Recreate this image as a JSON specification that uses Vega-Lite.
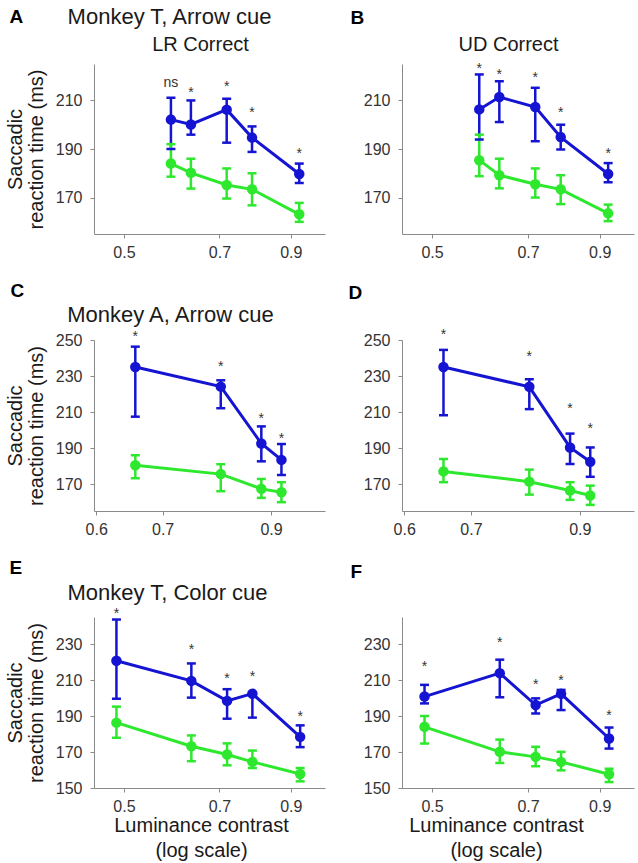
{
  "$schema": "https://vega.github.io/schema/vega-lite/v6.json",
  "padding": {"left": 5, "top": 5, "right": 3, "bottom": 5},
  "background": "white",
  "datasets": {
    "pts": [
      {"panel": "A", "cond": "blue", "c": 0.59, "rt": 202.1, "lo": 190, "hi": 211.1},
      {"panel": "A", "cond": "blue", "c": 0.633, "rt": 200.1, "lo": 195.9, "hi": 210},
      {"panel": "A", "cond": "blue", "c": 0.718, "rt": 206.2, "lo": 192.6, "hi": 210.7},
      {"panel": "A", "cond": "blue", "c": 0.785, "rt": 194.7, "lo": 188.8, "hi": 199.3},
      {"panel": "A", "cond": "blue", "c": 0.927, "rt": 179.7, "lo": 176, "hi": 184},
      {"panel": "A", "cond": "green", "c": 0.59, "rt": 184, "lo": 178.6, "hi": 192},
      {"panel": "A", "cond": "green", "c": 0.633, "rt": 180.2, "lo": 173.7, "hi": 186},
      {"panel": "A", "cond": "green", "c": 0.718, "rt": 175.2, "lo": 169.6, "hi": 182},
      {"panel": "A", "cond": "green", "c": 0.785, "rt": 173.4, "lo": 166.8, "hi": 180},
      {"panel": "A", "cond": "green", "c": 0.927, "rt": 163.1, "lo": 160, "hi": 167.8},
      {"panel": "B", "cond": "blue", "c": 0.59, "rt": 206.3, "lo": 193.9, "hi": 220.7},
      {"panel": "B", "cond": "blue", "c": 0.633, "rt": 211.4, "lo": 201.1, "hi": 217.9},
      {"panel": "B", "cond": "blue", "c": 0.718, "rt": 207.3, "lo": 193.2, "hi": 215.2},
      {"panel": "B", "cond": "blue", "c": 0.785, "rt": 194.9, "lo": 189.8, "hi": 200},
      {"panel": "B", "cond": "blue", "c": 0.927, "rt": 179.7, "lo": 176.3, "hi": 184.2},
      {"panel": "B", "cond": "green", "c": 0.59, "rt": 185.4, "lo": 178.8, "hi": 195.9},
      {"panel": "B", "cond": "green", "c": 0.633, "rt": 179.2, "lo": 173.8, "hi": 186},
      {"panel": "B", "cond": "green", "c": 0.718, "rt": 175.5, "lo": 170, "hi": 182},
      {"panel": "B", "cond": "green", "c": 0.785, "rt": 173.4, "lo": 167.3, "hi": 179.2},
      {"panel": "B", "cond": "green", "c": 0.927, "rt": 163.5, "lo": 160.3, "hi": 167.1},
      {"panel": "C", "cond": "blue", "c": 0.657, "rt": 235, "lo": 207.4, "hi": 246.3},
      {"panel": "C", "cond": "blue", "c": 0.801, "rt": 224.1, "lo": 212.1, "hi": 227.6},
      {"panel": "C", "cond": "blue", "c": 0.88, "rt": 192.5, "lo": 182.6, "hi": 202},
      {"panel": "C", "cond": "blue", "c": 0.922, "rt": 183.4, "lo": 175, "hi": 192.2},
      {"panel": "C", "cond": "green", "c": 0.657, "rt": 180.4, "lo": 173.2, "hi": 186},
      {"panel": "C", "cond": "green", "c": 0.801, "rt": 175.5, "lo": 166, "hi": 181},
      {"panel": "C", "cond": "green", "c": 0.88, "rt": 167.3, "lo": 162.3, "hi": 172.8},
      {"panel": "C", "cond": "green", "c": 0.922, "rt": 165.4, "lo": 159.9, "hi": 171},
      {"panel": "D", "cond": "blue", "c": 0.657, "rt": 235, "lo": 208.2, "hi": 244.5},
      {"panel": "D", "cond": "blue", "c": 0.801, "rt": 224, "lo": 211.6, "hi": 228.2},
      {"panel": "D", "cond": "blue", "c": 0.88, "rt": 190.3, "lo": 181.1, "hi": 198},
      {"panel": "D", "cond": "blue", "c": 0.922, "rt": 182.4, "lo": 174, "hi": 190.3},
      {"panel": "D", "cond": "green", "c": 0.657, "rt": 177, "lo": 171, "hi": 183.9},
      {"panel": "D", "cond": "green", "c": 0.801, "rt": 171.3, "lo": 164.1, "hi": 178},
      {"panel": "D", "cond": "green", "c": 0.88, "rt": 166.4, "lo": 161.2, "hi": 171},
      {"panel": "D", "cond": "green", "c": 0.922, "rt": 163.6, "lo": 158.4, "hi": 169.1},
      {"panel": "E", "cond": "blue", "c": 0.487, "rt": 220.7, "lo": 199.6, "hi": 243.6},
      {"panel": "E", "cond": "blue", "c": 0.634, "rt": 209.5, "lo": 200.2, "hi": 219.2},
      {"panel": "E", "cond": "blue", "c": 0.719, "rt": 198.4, "lo": 188.5, "hi": 204.9},
      {"panel": "E", "cond": "blue", "c": 0.786, "rt": 202.4, "lo": 189.1, "hi": 203},
      {"panel": "E", "cond": "blue", "c": 0.93, "rt": 178.4, "lo": 172.7, "hi": 184.8},
      {"panel": "E", "cond": "green", "c": 0.487, "rt": 186.3, "lo": 177.9, "hi": 195.2},
      {"panel": "E", "cond": "green", "c": 0.634, "rt": 173.2, "lo": 164.9, "hi": 179.2},
      {"panel": "E", "cond": "green", "c": 0.719, "rt": 168.6, "lo": 162.6, "hi": 174.8},
      {"panel": "E", "cond": "green", "c": 0.786, "rt": 164.5, "lo": 161.1, "hi": 170.8},
      {"panel": "E", "cond": "green", "c": 0.93, "rt": 157.8, "lo": 153.7, "hi": 161.1},
      {"panel": "F", "cond": "blue", "c": 0.487, "rt": 200.8, "lo": 197, "hi": 207.3},
      {"panel": "F", "cond": "blue", "c": 0.634, "rt": 213.8, "lo": 200.4, "hi": 221.3},
      {"panel": "F", "cond": "blue", "c": 0.719, "rt": 196.1, "lo": 191.4, "hi": 199.8},
      {"panel": "F", "cond": "blue", "c": 0.786, "rt": 202.3, "lo": 193.3, "hi": 204.5},
      {"panel": "F", "cond": "blue", "c": 0.93, "rt": 177.5, "lo": 171.9, "hi": 183.6},
      {"panel": "F", "cond": "green", "c": 0.487, "rt": 184, "lo": 174.7, "hi": 190},
      {"panel": "F", "cond": "green", "c": 0.634, "rt": 170.1, "lo": 163.9, "hi": 176.9},
      {"panel": "F", "cond": "green", "c": 0.719, "rt": 167.3, "lo": 162.1, "hi": 172.9},
      {"panel": "F", "cond": "green", "c": 0.786, "rt": 164.5, "lo": 159.8, "hi": 170.1},
      {"panel": "F", "cond": "green", "c": 0.93, "rt": 157.6, "lo": 153.3, "hi": 160.7}
    ],
    "sig": [
      {"panel": "A", "c": 0.59, "sy": 215.4, "sig": "ns"},
      {"panel": "A", "c": 0.633, "sy": 211.5, "sig": "*"},
      {"panel": "A", "c": 0.718, "sy": 213.8, "sig": "*"},
      {"panel": "A", "c": 0.785, "sy": 203.3, "sig": "*"},
      {"panel": "A", "c": 0.927, "sy": 186.5, "sig": "*"},
      {"panel": "B", "c": 0.59, "sy": 221.1, "sig": "*"},
      {"panel": "B", "c": 0.633, "sy": 219.0, "sig": "*"},
      {"panel": "B", "c": 0.718, "sy": 217.7, "sig": "*"},
      {"panel": "B", "c": 0.785, "sy": 203.3, "sig": "*"},
      {"panel": "B", "c": 0.927, "sy": 186.2, "sig": "*"},
      {"panel": "C", "c": 0.657, "sy": 249.6, "sig": "*"},
      {"panel": "C", "c": 0.801, "sy": 233.0, "sig": "*"},
      {"panel": "C", "c": 0.88, "sy": 204.1, "sig": "*"},
      {"panel": "C", "c": 0.922, "sy": 193.0, "sig": "*"},
      {"panel": "D", "c": 0.657, "sy": 250.6, "sig": "*"},
      {"panel": "D", "c": 0.801, "sy": 238.6, "sig": "*"},
      {"panel": "D", "c": 0.88, "sy": 209.6, "sig": "*"},
      {"panel": "D", "c": 0.922, "sy": 198.4, "sig": "*"},
      {"panel": "E", "c": 0.487, "sy": 244.5, "sig": "*"},
      {"panel": "E", "c": 0.634, "sy": 224.2, "sig": "*"},
      {"panel": "E", "c": 0.719, "sy": 208.4, "sig": "*"},
      {"panel": "E", "c": 0.786, "sy": 209.7, "sig": "*"},
      {"panel": "E", "c": 0.93, "sy": 187.3, "sig": "*"},
      {"panel": "F", "c": 0.487, "sy": 215.0, "sig": "*"},
      {"panel": "F", "c": 0.634, "sy": 228.1, "sig": "*"},
      {"panel": "F", "c": 0.719, "sy": 204.8, "sig": "*"},
      {"panel": "F", "c": 0.786, "sy": 207.0, "sig": "*"},
      {"panel": "F", "c": 0.93, "sy": 187.9, "sig": "*"}
    ]
  },
  "columns": 2,
  "bounds": "flush",
  "align": "each",
  "spacing": {"row": 106, "column": 77},
  "concat": [
    {
      "width": 231, "height": 170,
      "data": {"name": "pts"},
      "transform": [{"filter": "datum.panel == 'A'"}],
      "resolve": {"axis": {"x": "independent", "y": "independent"}},
      "layer": [
        {"mark": {"type": "line", "strokeWidth": 3},
         "encoding": {
           "x": {"field": "c", "type": "quantitative", "scale": {"type": "log", "domain": [0.45, 1.015], "nice": false}, "axis": {"values": [0.5, 0.7, 0.9], "format": ".1f", "title": null}},
           "y": {"field": "rt", "type": "quantitative", "scale": {"domain": [155, 225], "nice": false, "zero": false}, "axis": {"values": [170, 190, 210], "title": ["Saccadic", "reaction time (ms)"]}},
           "color": {"field": "cond", "type": "nominal", "scale": {"domain": ["blue", "green"], "range": ["#1414d2", "#2ee82e"]}, "legend": null}}},
        {"mark": {"type": "rule", "strokeWidth": 2.5},
         "encoding": {
           "x": {"field": "c", "type": "quantitative", "scale": {"type": "log", "domain": [0.45, 1.015], "nice": false}, "axis": null},
           "y": {"field": "lo", "type": "quantitative", "scale": {"domain": [155, 225], "nice": false, "zero": false}, "axis": null},
           "y2": {"field": "hi"},
           "color": {"field": "cond", "type": "nominal", "scale": {"domain": ["blue", "green"], "range": ["#1414d2", "#2ee82e"]}, "legend": null}}},
        {"mark": {"type": "tick", "orient": "horizontal", "size": 9, "thickness": 2.5, "opacity": 1},
         "encoding": {
           "x": {"field": "c", "type": "quantitative", "scale": {"type": "log", "domain": [0.45, 1.015], "nice": false},
                 "axis": {"orient": "top", "domain": false, "ticks": false, "labels": false, "title": "A", "titleX": -85, "titleY": -48, "titleAlign": "left", "titleBaseline": "middle", "titleFontWeight": "bold", "titleFontSize": 19, "titleColor": "#000000"}},
           "y": {"field": "lo", "type": "quantitative", "scale": {"domain": [155, 225], "nice": false, "zero": false}, "axis": null},
           "color": {"field": "cond", "type": "nominal", "scale": {"domain": ["blue", "green"], "range": ["#1414d2", "#2ee82e"]}, "legend": null}}},
        {"mark": {"type": "tick", "orient": "horizontal", "size": 9, "thickness": 2.5, "opacity": 1},
         "encoding": {
           "x": {"field": "c", "type": "quantitative", "scale": {"type": "log", "domain": [0.45, 1.015], "nice": false},
                 "axis": {"orient": "top", "domain": false, "ticks": false, "labels": false, "title": "Monkey T, Arrow cue", "titleX": 75, "titleY": -48, "titleAlign": "center", "titleBaseline": "middle", "titleFontSize": 22}},
           "y": {"field": "hi", "type": "quantitative", "scale": {"domain": [155, 225], "nice": false, "zero": false}, "axis": null},
           "color": {"field": "cond", "type": "nominal", "scale": {"domain": ["blue", "green"], "range": ["#1414d2", "#2ee82e"]}, "legend": null}}},
        {"mark": {"type": "circle", "size": 110, "opacity": 1},
         "encoding": {
           "x": {"field": "c", "type": "quantitative", "scale": {"type": "log", "domain": [0.45, 1.015], "nice": false}, "axis": null},
           "y": {"field": "rt", "type": "quantitative", "scale": {"domain": [155, 225], "nice": false, "zero": false}, "axis": null},
           "color": {"field": "cond", "type": "nominal", "scale": {"domain": ["blue", "green"], "range": ["#1414d2", "#2ee82e"]}, "legend": null}}},
        {"data": {"name": "sig"},
         "transform": [{"filter": "datum.panel == 'A'"}],
         "mark": {"type": "text", "fontSize": 14, "color": "#333333", "baseline": "alphabetic"},
         "encoding": {
           "x": {"field": "c", "type": "quantitative", "scale": {"type": "log", "domain": [0.45, 1.015], "nice": false},
                 "axis": {"orient": "top", "domain": false, "ticks": false, "labels": false, "title": "LR Correct", "titleX": 106, "titleY": -20, "titleAlign": "center", "titleBaseline": "middle", "titleFontSize": 20}},
           "y": {"field": "sy", "type": "quantitative", "scale": {"domain": [155, 225], "nice": false, "zero": false}, "axis": null},
           "text": {"field": "sig", "type": "nominal"}}}
      ]
    },
    {
      "width": 232, "height": 170,
      "data": {"name": "pts"},
      "transform": [{"filter": "datum.panel == 'B'"}],
      "resolve": {"axis": {"x": "independent", "y": "independent"}},
      "layer": [
        {"mark": {"type": "line", "strokeWidth": 3},
         "encoding": {
           "x": {"field": "c", "type": "quantitative", "scale": {"type": "log", "domain": [0.45, 1.015], "nice": false}, "axis": {"values": [0.5, 0.7, 0.9], "format": ".1f", "title": null}},
           "y": {"field": "rt", "type": "quantitative", "scale": {"domain": [155, 225], "nice": false, "zero": false}, "axis": {"values": [170, 190, 210], "title": null}},
           "color": {"field": "cond", "type": "nominal", "scale": {"domain": ["blue", "green"], "range": ["#1414d2", "#2ee82e"]}, "legend": null}}},
        {"mark": {"type": "rule", "strokeWidth": 2.5},
         "encoding": {
           "x": {"field": "c", "type": "quantitative", "scale": {"type": "log", "domain": [0.45, 1.015], "nice": false}, "axis": null},
           "y": {"field": "lo", "type": "quantitative", "scale": {"domain": [155, 225], "nice": false, "zero": false}, "axis": null},
           "y2": {"field": "hi"},
           "color": {"field": "cond", "type": "nominal", "scale": {"domain": ["blue", "green"], "range": ["#1414d2", "#2ee82e"]}, "legend": null}}},
        {"mark": {"type": "tick", "orient": "horizontal", "size": 9, "thickness": 2.5, "opacity": 1},
         "encoding": {
           "x": {"field": "c", "type": "quantitative", "scale": {"type": "log", "domain": [0.45, 1.015], "nice": false},
                 "axis": {"orient": "top", "domain": false, "ticks": false, "labels": false, "title": "B", "titleX": -52, "titleY": -47, "titleAlign": "left", "titleBaseline": "middle", "titleFontWeight": "bold", "titleFontSize": 19, "titleColor": "#000000"}},
           "y": {"field": "lo", "type": "quantitative", "scale": {"domain": [155, 225], "nice": false, "zero": false}, "axis": null},
           "color": {"field": "cond", "type": "nominal", "scale": {"domain": ["blue", "green"], "range": ["#1414d2", "#2ee82e"]}, "legend": null}}},
        {"mark": {"type": "tick", "orient": "horizontal", "size": 9, "thickness": 2.5, "opacity": 1},
         "encoding": {
           "x": {"field": "c", "type": "quantitative", "scale": {"type": "log", "domain": [0.45, 1.015], "nice": false},
                 "axis": {"orient": "top", "domain": false, "ticks": false, "labels": false, "title": "UD Correct", "titleX": 106, "titleY": -20, "titleAlign": "center", "titleBaseline": "middle", "titleFontSize": 20}},
           "y": {"field": "hi", "type": "quantitative", "scale": {"domain": [155, 225], "nice": false, "zero": false}, "axis": null},
           "color": {"field": "cond", "type": "nominal", "scale": {"domain": ["blue", "green"], "range": ["#1414d2", "#2ee82e"]}, "legend": null}}},
        {"mark": {"type": "circle", "size": 110, "opacity": 1},
         "encoding": {
           "x": {"field": "c", "type": "quantitative", "scale": {"type": "log", "domain": [0.45, 1.015], "nice": false}, "axis": null},
           "y": {"field": "rt", "type": "quantitative", "scale": {"domain": [155, 225], "nice": false, "zero": false}, "axis": null},
           "color": {"field": "cond", "type": "nominal", "scale": {"domain": ["blue", "green"], "range": ["#1414d2", "#2ee82e"]}, "legend": null}}},
        {"data": {"name": "sig"},
         "transform": [{"filter": "datum.panel == 'B'"}],
         "mark": {"type": "text", "fontSize": 14, "color": "#333333", "baseline": "alphabetic"},
         "encoding": {
           "x": {"field": "c", "type": "quantitative", "scale": {"type": "log", "domain": [0.45, 1.015], "nice": false}, "axis": null},
           "y": {"field": "sy", "type": "quantitative", "scale": {"domain": [155, 225], "nice": false, "zero": false}, "axis": null},
           "text": {"field": "sig", "type": "nominal"}}}
      ]
    },
    {
      "width": 231, "height": 171,
      "data": {"name": "pts"},
      "transform": [{"filter": "datum.panel == 'C'"}],
      "resolve": {"axis": {"x": "independent", "y": "independent"}},
      "layer": [
        {"mark": {"type": "line", "strokeWidth": 3},
         "encoding": {
           "x": {"field": "c", "type": "quantitative", "scale": {"type": "log", "domain": [0.597, 1.02], "nice": false}, "axis": {"values": [0.6, 0.7, 0.9], "format": ".1f", "title": null}},
           "y": {"field": "rt", "type": "quantitative", "scale": {"domain": [155, 250], "nice": false, "zero": false}, "axis": {"values": [170, 190, 210, 230, 250], "title": ["Saccadic", "reaction time (ms)"]}},
           "color": {"field": "cond", "type": "nominal", "scale": {"domain": ["blue", "green"], "range": ["#1414d2", "#2ee82e"]}, "legend": null}}},
        {"mark": {"type": "rule", "strokeWidth": 2.5},
         "encoding": {
           "x": {"field": "c", "type": "quantitative", "scale": {"type": "log", "domain": [0.597, 1.02], "nice": false}, "axis": null},
           "y": {"field": "lo", "type": "quantitative", "scale": {"domain": [155, 250], "nice": false, "zero": false}, "axis": null},
           "y2": {"field": "hi"},
           "color": {"field": "cond", "type": "nominal", "scale": {"domain": ["blue", "green"], "range": ["#1414d2", "#2ee82e"]}, "legend": null}}},
        {"mark": {"type": "tick", "orient": "horizontal", "size": 9, "thickness": 2.5, "opacity": 1},
         "encoding": {
           "x": {"field": "c", "type": "quantitative", "scale": {"type": "log", "domain": [0.597, 1.02], "nice": false},
                 "axis": {"orient": "top", "domain": false, "ticks": false, "labels": false, "title": "C", "titleX": -84, "titleY": -50, "titleAlign": "left", "titleBaseline": "middle", "titleFontWeight": "bold", "titleFontSize": 19, "titleColor": "#000000"}},
           "y": {"field": "lo", "type": "quantitative", "scale": {"domain": [155, 250], "nice": false, "zero": false}, "axis": null},
           "color": {"field": "cond", "type": "nominal", "scale": {"domain": ["blue", "green"], "range": ["#1414d2", "#2ee82e"]}, "legend": null}}},
        {"mark": {"type": "tick", "orient": "horizontal", "size": 9, "thickness": 2.5, "opacity": 1},
         "encoding": {
           "x": {"field": "c", "type": "quantitative", "scale": {"type": "log", "domain": [0.597, 1.02], "nice": false},
                 "axis": {"orient": "top", "domain": false, "ticks": false, "labels": false, "title": "Monkey A, Arrow cue", "titleX": 76, "titleY": -26, "titleAlign": "center", "titleBaseline": "middle", "titleFontSize": 22}},
           "y": {"field": "hi", "type": "quantitative", "scale": {"domain": [155, 250], "nice": false, "zero": false}, "axis": null},
           "color": {"field": "cond", "type": "nominal", "scale": {"domain": ["blue", "green"], "range": ["#1414d2", "#2ee82e"]}, "legend": null}}},
        {"mark": {"type": "circle", "size": 110, "opacity": 1},
         "encoding": {
           "x": {"field": "c", "type": "quantitative", "scale": {"type": "log", "domain": [0.597, 1.02], "nice": false}, "axis": null},
           "y": {"field": "rt", "type": "quantitative", "scale": {"domain": [155, 250], "nice": false, "zero": false}, "axis": null},
           "color": {"field": "cond", "type": "nominal", "scale": {"domain": ["blue", "green"], "range": ["#1414d2", "#2ee82e"]}, "legend": null}}},
        {"data": {"name": "sig"},
         "transform": [{"filter": "datum.panel == 'C'"}],
         "mark": {"type": "text", "fontSize": 14, "color": "#333333", "baseline": "alphabetic"},
         "encoding": {
           "x": {"field": "c", "type": "quantitative", "scale": {"type": "log", "domain": [0.597, 1.02], "nice": false}, "axis": null},
           "y": {"field": "sy", "type": "quantitative", "scale": {"domain": [155, 250], "nice": false, "zero": false}, "axis": null},
           "text": {"field": "sig", "type": "nominal"}}}
      ]
    },
    {
      "width": 232, "height": 171,
      "data": {"name": "pts"},
      "transform": [{"filter": "datum.panel == 'D'"}],
      "resolve": {"axis": {"x": "independent", "y": "independent"}},
      "layer": [
        {"mark": {"type": "line", "strokeWidth": 3},
         "encoding": {
           "x": {"field": "c", "type": "quantitative", "scale": {"type": "log", "domain": [0.597, 1.02], "nice": false}, "axis": {"values": [0.6, 0.7, 0.9], "format": ".1f", "title": null}},
           "y": {"field": "rt", "type": "quantitative", "scale": {"domain": [155, 250], "nice": false, "zero": false}, "axis": {"values": [170, 190, 210, 230, 250], "title": null}},
           "color": {"field": "cond", "type": "nominal", "scale": {"domain": ["blue", "green"], "range": ["#1414d2", "#2ee82e"]}, "legend": null}}},
        {"mark": {"type": "rule", "strokeWidth": 2.5},
         "encoding": {
           "x": {"field": "c", "type": "quantitative", "scale": {"type": "log", "domain": [0.597, 1.02], "nice": false}, "axis": null},
           "y": {"field": "lo", "type": "quantitative", "scale": {"domain": [155, 250], "nice": false, "zero": false}, "axis": null},
           "y2": {"field": "hi"},
           "color": {"field": "cond", "type": "nominal", "scale": {"domain": ["blue", "green"], "range": ["#1414d2", "#2ee82e"]}, "legend": null}}},
        {"mark": {"type": "tick", "orient": "horizontal", "size": 9, "thickness": 2.5, "opacity": 1},
         "encoding": {
           "x": {"field": "c", "type": "quantitative", "scale": {"type": "log", "domain": [0.597, 1.02], "nice": false},
                 "axis": {"orient": "top", "domain": false, "ticks": false, "labels": false, "title": "D", "titleX": -54, "titleY": -48, "titleAlign": "left", "titleBaseline": "middle", "titleFontWeight": "bold", "titleFontSize": 19, "titleColor": "#000000"}},
           "y": {"field": "lo", "type": "quantitative", "scale": {"domain": [155, 250], "nice": false, "zero": false}, "axis": null},
           "color": {"field": "cond", "type": "nominal", "scale": {"domain": ["blue", "green"], "range": ["#1414d2", "#2ee82e"]}, "legend": null}}},
        {"mark": {"type": "tick", "orient": "horizontal", "size": 9, "thickness": 2.5, "opacity": 1},
         "encoding": {
           "x": {"field": "c", "type": "quantitative", "scale": {"type": "log", "domain": [0.597, 1.02], "nice": false}, "axis": null},
           "y": {"field": "hi", "type": "quantitative", "scale": {"domain": [155, 250], "nice": false, "zero": false}, "axis": null},
           "color": {"field": "cond", "type": "nominal", "scale": {"domain": ["blue", "green"], "range": ["#1414d2", "#2ee82e"]}, "legend": null}}},
        {"mark": {"type": "circle", "size": 110, "opacity": 1},
         "encoding": {
           "x": {"field": "c", "type": "quantitative", "scale": {"type": "log", "domain": [0.597, 1.02], "nice": false}, "axis": null},
           "y": {"field": "rt", "type": "quantitative", "scale": {"domain": [155, 250], "nice": false, "zero": false}, "axis": null},
           "color": {"field": "cond", "type": "nominal", "scale": {"domain": ["blue", "green"], "range": ["#1414d2", "#2ee82e"]}, "legend": null}}},
        {"data": {"name": "sig"},
         "transform": [{"filter": "datum.panel == 'D'"}],
         "mark": {"type": "text", "fontSize": 14, "color": "#333333", "baseline": "alphabetic"},
         "encoding": {
           "x": {"field": "c", "type": "quantitative", "scale": {"type": "log", "domain": [0.597, 1.02], "nice": false}, "axis": null},
           "y": {"field": "sy", "type": "quantitative", "scale": {"domain": [155, 250], "nice": false, "zero": false}, "axis": null},
           "text": {"field": "sig", "type": "nominal"}}}
      ]
    },
    {
      "width": 231, "height": 171,
      "data": {"name": "pts"},
      "transform": [{"filter": "datum.panel == 'E'"}],
      "resolve": {"axis": {"x": "independent", "y": "independent"}},
      "layer": [
        {"mark": {"type": "line", "strokeWidth": 3},
         "encoding": {
           "x": {"field": "c", "type": "quantitative", "scale": {"type": "log", "domain": [0.45, 1.015], "nice": false},
                 "axis": {"values": [0.5, 0.7, 0.9], "format": ".1f", "title": ["Luminance contrast", "(log scale)"], "titleX": 107, "titleY": 27, "titleAlign": "center", "titleBaseline": "top", "titleLineHeight": 25}},
           "y": {"field": "rt", "type": "quantitative", "scale": {"domain": [150, 245], "nice": false, "zero": false}, "axis": {"values": [150, 170, 190, 210, 230], "title": ["Saccadic", "reaction time (ms)"]}},
           "color": {"field": "cond", "type": "nominal", "scale": {"domain": ["blue", "green"], "range": ["#1414d2", "#2ee82e"]}, "legend": null}}},
        {"mark": {"type": "rule", "strokeWidth": 2.5},
         "encoding": {
           "x": {"field": "c", "type": "quantitative", "scale": {"type": "log", "domain": [0.45, 1.015], "nice": false}, "axis": null},
           "y": {"field": "lo", "type": "quantitative", "scale": {"domain": [150, 245], "nice": false, "zero": false}, "axis": null},
           "y2": {"field": "hi"},
           "color": {"field": "cond", "type": "nominal", "scale": {"domain": ["blue", "green"], "range": ["#1414d2", "#2ee82e"]}, "legend": null}}},
        {"mark": {"type": "tick", "orient": "horizontal", "size": 9, "thickness": 2.5, "opacity": 1},
         "encoding": {
           "x": {"field": "c", "type": "quantitative", "scale": {"type": "log", "domain": [0.45, 1.015], "nice": false},
                 "axis": {"orient": "top", "domain": false, "ticks": false, "labels": false, "title": "E", "titleX": -85, "titleY": -50, "titleAlign": "left", "titleBaseline": "middle", "titleFontWeight": "bold", "titleFontSize": 19, "titleColor": "#000000"}},
           "y": {"field": "lo", "type": "quantitative", "scale": {"domain": [150, 245], "nice": false, "zero": false}, "axis": null},
           "color": {"field": "cond", "type": "nominal", "scale": {"domain": ["blue", "green"], "range": ["#1414d2", "#2ee82e"]}, "legend": null}}},
        {"mark": {"type": "tick", "orient": "horizontal", "size": 9, "thickness": 2.5, "opacity": 1},
         "encoding": {
           "x": {"field": "c", "type": "quantitative", "scale": {"type": "log", "domain": [0.45, 1.015], "nice": false},
                 "axis": {"orient": "top", "domain": false, "ticks": false, "labels": false, "title": "Monkey T, Color cue", "titleX": 73, "titleY": -25, "titleAlign": "center", "titleBaseline": "middle", "titleFontSize": 22}},
           "y": {"field": "hi", "type": "quantitative", "scale": {"domain": [150, 245], "nice": false, "zero": false}, "axis": null},
           "color": {"field": "cond", "type": "nominal", "scale": {"domain": ["blue", "green"], "range": ["#1414d2", "#2ee82e"]}, "legend": null}}},
        {"mark": {"type": "circle", "size": 110, "opacity": 1},
         "encoding": {
           "x": {"field": "c", "type": "quantitative", "scale": {"type": "log", "domain": [0.45, 1.015], "nice": false}, "axis": null},
           "y": {"field": "rt", "type": "quantitative", "scale": {"domain": [150, 245], "nice": false, "zero": false}, "axis": null},
           "color": {"field": "cond", "type": "nominal", "scale": {"domain": ["blue", "green"], "range": ["#1414d2", "#2ee82e"]}, "legend": null}}},
        {"data": {"name": "sig"},
         "transform": [{"filter": "datum.panel == 'E'"}],
         "mark": {"type": "text", "fontSize": 14, "color": "#333333", "baseline": "alphabetic"},
         "encoding": {
           "x": {"field": "c", "type": "quantitative", "scale": {"type": "log", "domain": [0.45, 1.015], "nice": false}, "axis": null},
           "y": {"field": "sy", "type": "quantitative", "scale": {"domain": [150, 245], "nice": false, "zero": false}, "axis": null},
           "text": {"field": "sig", "type": "nominal"}}}
      ]
    },
    {
      "width": 232, "height": 171,
      "data": {"name": "pts"},
      "transform": [{"filter": "datum.panel == 'F'"}],
      "resolve": {"axis": {"x": "independent", "y": "independent"}},
      "layer": [
        {"mark": {"type": "line", "strokeWidth": 3},
         "encoding": {
           "x": {"field": "c", "type": "quantitative", "scale": {"type": "log", "domain": [0.45, 1.015], "nice": false},
                 "axis": {"values": [0.5, 0.7, 0.9], "format": ".1f", "title": ["Luminance contrast", "(log scale)"], "titleX": 94, "titleY": 27, "titleAlign": "center", "titleBaseline": "top", "titleLineHeight": 25}},
           "y": {"field": "rt", "type": "quantitative", "scale": {"domain": [150, 245], "nice": false, "zero": false}, "axis": {"values": [150, 170, 190, 210, 230], "title": null}},
           "color": {"field": "cond", "type": "nominal", "scale": {"domain": ["blue", "green"], "range": ["#1414d2", "#2ee82e"]}, "legend": null}}},
        {"mark": {"type": "rule", "strokeWidth": 2.5},
         "encoding": {
           "x": {"field": "c", "type": "quantitative", "scale": {"type": "log", "domain": [0.45, 1.015], "nice": false}, "axis": null},
           "y": {"field": "lo", "type": "quantitative", "scale": {"domain": [150, 245], "nice": false, "zero": false}, "axis": null},
           "y2": {"field": "hi"},
           "color": {"field": "cond", "type": "nominal", "scale": {"domain": ["blue", "green"], "range": ["#1414d2", "#2ee82e"]}, "legend": null}}},
        {"mark": {"type": "tick", "orient": "horizontal", "size": 9, "thickness": 2.5, "opacity": 1},
         "encoding": {
           "x": {"field": "c", "type": "quantitative", "scale": {"type": "log", "domain": [0.45, 1.015], "nice": false},
                 "axis": {"orient": "top", "domain": false, "ticks": false, "labels": false, "title": "F", "titleX": -52, "titleY": -46, "titleAlign": "left", "titleBaseline": "middle", "titleFontWeight": "bold", "titleFontSize": 19, "titleColor": "#000000"}},
           "y": {"field": "lo", "type": "quantitative", "scale": {"domain": [150, 245], "nice": false, "zero": false}, "axis": null},
           "color": {"field": "cond", "type": "nominal", "scale": {"domain": ["blue", "green"], "range": ["#1414d2", "#2ee82e"]}, "legend": null}}},
        {"mark": {"type": "tick", "orient": "horizontal", "size": 9, "thickness": 2.5, "opacity": 1},
         "encoding": {
           "x": {"field": "c", "type": "quantitative", "scale": {"type": "log", "domain": [0.45, 1.015], "nice": false}, "axis": null},
           "y": {"field": "hi", "type": "quantitative", "scale": {"domain": [150, 245], "nice": false, "zero": false}, "axis": null},
           "color": {"field": "cond", "type": "nominal", "scale": {"domain": ["blue", "green"], "range": ["#1414d2", "#2ee82e"]}, "legend": null}}},
        {"mark": {"type": "circle", "size": 110, "opacity": 1},
         "encoding": {
           "x": {"field": "c", "type": "quantitative", "scale": {"type": "log", "domain": [0.45, 1.015], "nice": false}, "axis": null},
           "y": {"field": "rt", "type": "quantitative", "scale": {"domain": [150, 245], "nice": false, "zero": false}, "axis": null},
           "color": {"field": "cond", "type": "nominal", "scale": {"domain": ["blue", "green"], "range": ["#1414d2", "#2ee82e"]}, "legend": null}}},
        {"data": {"name": "sig"},
         "transform": [{"filter": "datum.panel == 'F'"}],
         "mark": {"type": "text", "fontSize": 14, "color": "#333333", "baseline": "alphabetic"},
         "encoding": {
           "x": {"field": "c", "type": "quantitative", "scale": {"type": "log", "domain": [0.45, 1.015], "nice": false}, "axis": null},
           "y": {"field": "sy", "type": "quantitative", "scale": {"domain": [150, 245], "nice": false, "zero": false}, "axis": null},
           "text": {"field": "sig", "type": "nominal"}}}
      ]
    }
  ],
  "config": {
    "view": {"stroke": null},
    "font": "Liberation Sans",
    "axis": {
      "grid": false,
      "domainColor": "#8a8a8a",
      "tickColor": "#8a8a8a",
      "tickSize": 4,
      "labelFontSize": 16,
      "labelColor": "#333333",
      "labelFlush": false,
      "labelOverlap": false,
      "titleFontSize": 20,
      "titleFontWeight": "normal",
      "titleColor": "#1a1a1a"
    },
    "axisX": {"labelPadding": 6},
    "axisY": {"labelPadding": 8, "titlePadding": 9, "titleLineHeight": 21}
  }
}
